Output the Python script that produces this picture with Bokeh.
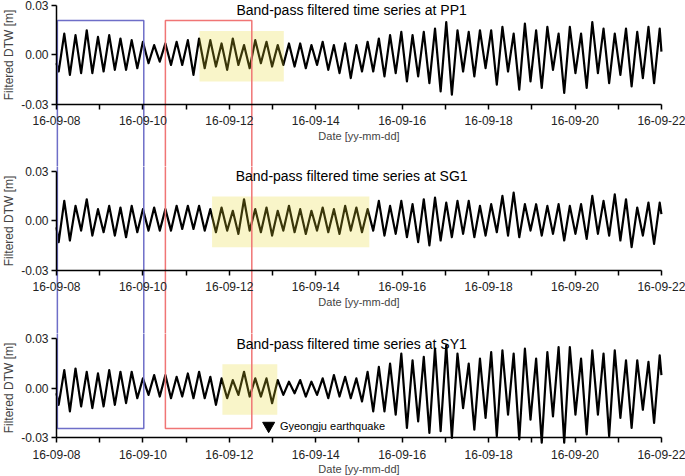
from bokeh.plotting import figure
from bokeh.models import Range1d, LinearAxis, FixedTicker, NumeralTickFormatter, Label
from bokeh.layouts import column
from bokeh.embed import file_html
from bokeh.resources import INLINE

# ---------------- data ----------------
stations = ["PP1", "SG1", "SY1"]
x_ticks = list(range(15))  # days since 16-09-08
x_tick_labels = ["16-09-08", "", "16-09-10", "", "16-09-12", "", "16-09-14", "",
                 "16-09-16", "", "16-09-18", "", "16-09-20", "", "16-09-22"]
y_ticks = [-0.03, 0.0, 0.03]

first_trough_day = 0.05
first_peak_day = 0.18
cycle_days = 0.26

start_values = [-0.005, -0.004, -0.003]   # value at 16-09-08 00:00
end_values = [0.002, 0.004, 0.008]        # value at 16-09-22 00:00

pp1_peaks = [0.013, 0.012, 0.015, 0.011, 0.012, 0.010, 0.009, 0.008,
             0.006, 0.007, 0.008, 0.009, 0.010,
             0.009, 0.007, 0.010, 0.006, 0.009, 0.008, 0.006, 0.007,
             0.007, 0.006, 0.008, 0.006, 0.007, 0.006, 0.008,
             0.010, 0.012, 0.014, 0.012, 0.014, 0.016, 0.020, 0.015,
             0.014, 0.015, 0.015, 0.017, 0.013, 0.019, 0.015, 0.017, 0.013,
             0.017, 0.013, 0.020, 0.016, 0.013, 0.016, 0.014, 0.017, 0.016]
pp1_troughs = [-0.010, -0.012, -0.011, -0.011, -0.010, -0.009, -0.009, -0.008,
               -0.005, -0.004, -0.006, -0.006, -0.012,
               -0.008, -0.007, -0.009, -0.006, -0.008, -0.005, -0.007, -0.006,
               -0.007, -0.008, -0.006, -0.009, -0.011, -0.014, -0.010,
               -0.010, -0.013, -0.011, -0.016, -0.013, -0.017, -0.022, -0.024,
               -0.010, -0.013, -0.008, -0.018, -0.010, -0.021, -0.016, -0.020, -0.009,
               -0.023, -0.011, -0.020, -0.011, -0.017, -0.012, -0.019, -0.014, -0.017]

sg1_peaks = [0.012, 0.009, 0.013, 0.007, 0.009, 0.008, 0.009, 0.007, 0.008, 0.007, 0.009, 0.009, 0.009,
             0.007, 0.008, 0.006, 0.013, 0.007, 0.008, 0.006, 0.009, 0.007, 0.006, 0.008, 0.007, 0.009, 0.008, 0.007,
             0.012, 0.009, 0.012, 0.010, 0.013, 0.014, 0.011, 0.012,
             0.012, 0.009, 0.010, 0.015, 0.017, 0.010, 0.010, 0.009, 0.010,
             0.009, 0.010, 0.015, 0.012, 0.016, 0.013, 0.008, 0.011, 0.011]
sg1_troughs = [-0.013, -0.012, -0.006, -0.009, -0.007, -0.009, -0.010, -0.007, -0.006, -0.006, -0.006, -0.005, -0.005, -0.006,
               -0.007, -0.006, -0.008, -0.006, -0.007, -0.009, -0.006, -0.007, -0.008, -0.006, -0.007, -0.008, -0.006, -0.007,
               -0.006, -0.009, -0.008, -0.010, -0.013, -0.015, -0.012, -0.010,
               -0.008, -0.010, -0.009, -0.007, -0.009, -0.010, -0.006, -0.009, -0.008,
               -0.012, -0.008, -0.011, -0.008, -0.009, -0.012, -0.016, -0.009, -0.014]

sy1_peaks = [0.011, 0.012, 0.010, 0.009, 0.011, 0.010, 0.010, 0.006, 0.008, 0.008, 0.007, 0.009, 0.010,
             0.007, 0.006, 0.005, 0.010, 0.006, 0.006, 0.005,
             0.004, 0.005, 0.004, 0.006, 0.008, 0.007, 0.006, 0.010,
             0.013, 0.015, 0.021, 0.017, 0.019, 0.024, 0.026, 0.021,
             0.015, 0.018, 0.022, 0.023, 0.021, 0.024, 0.018, 0.022, 0.025,
             0.025, 0.018, 0.023, 0.021, 0.023, 0.017, 0.017, 0.016, 0.020]
sy1_troughs = [-0.010, -0.014, -0.011, -0.012, -0.011, -0.010, -0.009, -0.006, -0.004, -0.005, -0.006, -0.005, -0.006, -0.006, -0.010,
               -0.006, -0.004, -0.005, -0.005, -0.009,
               -0.004, -0.003, -0.005, -0.004, -0.006, -0.005, -0.006,
               -0.008, -0.014, -0.014, -0.016, -0.024, -0.020, -0.027, -0.026, -0.030,
               -0.012, -0.025, -0.018, -0.029, -0.016, -0.031, -0.019, -0.033, -0.017,
               -0.033, -0.016, -0.028, -0.016, -0.029, -0.018, -0.024, -0.013, -0.021]

noise_windows = [(3.31, 5.26), (3.60, 7.24), (3.84, 5.11)]   # days (highlighted spans)
blue_window = (0.02, 2.02)
red_window = (2.52, 4.52)
quake_day = 4.91
quake_text = "Gyeongju earthquake"

# ---------------- drawing ----------------
FONT = "Liberation Sans"
W = 685
x_rng = Range1d(-1.296, 14.557)


def series(peaks, troughs, v0, v1):
    xs, ys = [0.0], [v0]
    for i in range(len(peaks)):
        xs += [first_trough_day + cycle_days * i, first_peak_day + cycle_days * i]
        ys += [troughs[i], peaks[i]]
    xs.append(14.0)
    ys.append(v1)
    return xs, ys


def panel(k, peaks, troughs, height, y_lo, y_hi, rect_top, rect_bottom, quake=False):
    name = stations[k]
    window = noise_windows[k]
    p = figure(width=W, height=height, x_range=x_rng, y_range=Range1d(y_lo, y_hi),
               output_backend="svg", toolbar_location=None,
               x_axis_location=None, y_axis_location=None,
               min_border_left=0, min_border_right=0, min_border_top=0, min_border_bottom=0)
    p.grid.visible = False
    p.outline_line_color = None
    p.background_fill_color = "white"
    p.border_fill_color = "white"

    xs, ys = series(peaks, troughs, start_values[k], end_values[k])
    p.line(xs, ys, line_color="black", line_width=2.2, line_join="round")

    # highlighted noisy span
    p.quad(left=[window[0]], right=[window[1]], top=[0.0146], bottom=[-0.0161],
           fill_color="#e7d727", fill_alpha=0.25, line_color=None)

    # analysis windows (spanning all panels)
    p.quad(left=[blue_window[0]], right=[blue_window[1]], top=[rect_top], bottom=[rect_bottom],
           fill_alpha=0, line_color="#6e6ec8", line_width=1.5)
    p.quad(left=[red_window[0]], right=[red_window[1]], top=[rect_top], bottom=[rect_bottom],
           fill_alpha=0, line_color="#f07575", line_width=1.5)

    # y axis at day 0
    ya = LinearAxis(fixed_location=0.0, ticker=FixedTicker(ticks=y_ticks),
                    formatter=NumeralTickFormatter(format="0.00"),
                    bounds=(-0.03, 0.03), axis_label="Filtered DTW [m]")
    ya.axis_label_text_font = FONT
    ya.axis_label_text_font_size = "12px"
    ya.axis_label_text_font_style = "normal"
    ya.axis_label_standoff = 2
    ya.major_label_text_font = FONT
    ya.major_label_text_font_size = "12px"
    ya.major_label_text_color = "#222222"
    ya.major_label_standoff = 3
    ya.major_tick_out = 5
    ya.major_tick_in = 0
    ya.minor_tick_out = 0
    ya.minor_tick_in = 0
    ya.axis_line_width = 1.5
    ya.major_tick_line_width = 1.5
    p.add_layout(ya, "left")

    # x axis placed at the panel bottom
    xa = LinearAxis(fixed_location=-0.03, ticker=FixedTicker(ticks=x_ticks),
                    major_label_overrides={t: l for t, l in zip(x_ticks, x_tick_labels)},
                    bounds=(0, 14), axis_label="Date [yy-mm-dd]")
    xa.axis_label_text_font = FONT
    xa.axis_label_text_font_size = "11px"
    xa.axis_label_text_font_style = "normal"
    xa.axis_label_standoff = 1
    xa.major_label_text_font = FONT
    xa.major_label_text_font_size = "12px"
    xa.major_label_text_color = "#222222"
    xa.major_label_standoff = 7
    xa.major_tick_out = 5
    xa.major_tick_in = 0
    xa.minor_tick_out = 0
    xa.minor_tick_in = 0
    xa.axis_line_width = 1.5
    xa.major_tick_line_width = 1.5
    p.add_layout(xa, "below")

    p.add_layout(Label(x=6.83, y=0.027, text=f"Band-pass filtered time series at {name}",
                       text_align="center", text_baseline="middle",
                       text_font=FONT, text_font_size="14px", text_color="black"))

    if quake:
        p.scatter([quake_day], [-0.0227], marker="inverted_triangle", size=12,
                  fill_color="black", line_color="black")
        p.add_layout(Label(x=quake_day + 0.26, y=-0.0227, text=quake_text,
                           text_align="left", text_baseline="middle",
                           text_font=FONT, text_font_size="11px", text_color="black"))
    return p


p1 = panel(0, pp1_peaks, pp1_troughs, 166, -0.06758, 0.03303, 0.0209, -1.0)
p2 = panel(1, sg1_peaks, sg1_troughs, 167, -0.06836, 0.03285, 1.0, -1.0)
p3 = panel(2, sy1_peaks, sy1_troughs, 143, -0.05345, 0.03321, 1.0, -0.0243, quake=True)

layout = column(p1, p2, p3, spacing=0)
open("out.html", "w").write(file_html(layout, INLINE))
